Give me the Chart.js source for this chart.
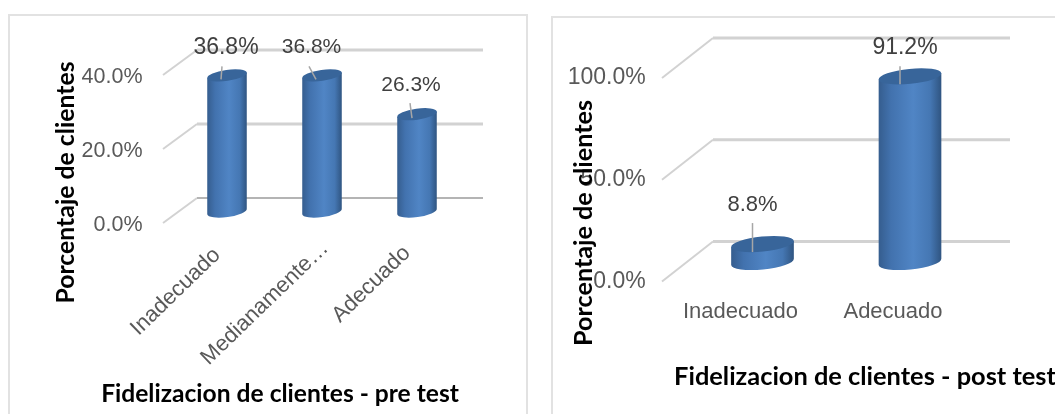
<!DOCTYPE html>
<html lang="es">
<head>
<meta charset="utf-8">
<title>Fidelizacion de clientes</title>
<script src="https://cdn.jsdelivr.net/npm/chart.js@4/dist/chart.umd.js"></script>
<style>
  html, body { margin: 0; padding: 0; background: #fff; overflow: hidden; }
  #stage { position: relative; width: 1055px; height: 414px; overflow: hidden; }
  #stage canvas { position: absolute; left: 0; top: 0; }
  .frame { position: absolute; border: 2px solid #e2e2e2; box-sizing: border-box; }
  #frame-pre { left: 8px; top: 14px; width: 520px; height: 440px; }
  #frame-post { left: 551px; top: 16px; width: 560px; height: 440px; }
</style>
</head>
<body>
<div id="stage">
  <div class="frame" id="frame-pre"></div>
  <div class="frame" id="frame-post"></div>
  <canvas id="chart-pre" width="1055" height="414"></canvas>
  <canvas id="chart-post" width="1055" height="414"></canvas>
</div>
<script>
  const preCategories = ['Inadecuado', 'Medianamente…', 'Adecuado'];
  const preValues = [36.8, 36.8, 26.3];
  const preTicks = ['0.0%', '20.0%', '40.0%'];

  const postCategories = ['Inadecuado', 'Adecuado'];
  const postValues = [8.8, 91.2];
  const postTicks = ['0.0%', '50.0%', '100.0%'];

  const TICK_FONT = '"Liberation Sans", Arial, sans-serif';
  const TITLE_FONT = 'Lato, "Noto Sans", sans-serif';
  const COLORS = {
    tick: '#595959',
    value: '#404040',
    grid: '#d2d2d2',
    leader: '#a6a6a6',
    cap: '#38659a',
    title: '#000000',
  };

  // Bar drawn as a tilted cylinder between the scale's base and value pixels
  class CylinderElement extends Chart.BarElement {
    static id = 'cylinder';
    static defaults = { tilt: 0, capRadius: 0 };
    draw(ctx) {
      const { x, y, base, width } = this.getProps(['x', 'y', 'base', 'width']);
      const tilt = this.options.tilt;
      const ry = this.options.capRadius;
      const rx = width / 2;
      const dx = rx * Math.cos(tilt);
      const dy = rx * Math.sin(tilt);

      const body = ctx.createLinearGradient(x - rx, 0, x + rx, 0);
      body.addColorStop(0, '#355d8e');
      body.addColorStop(0.2, '#4272ae');
      body.addColorStop(0.55, '#5085c5');
      body.addColorStop(0.82, '#4577b3');
      body.addColorStop(1, '#2f5480');

      ctx.save();
      ctx.beginPath();
      ctx.moveTo(x - dx, y + dy);
      ctx.lineTo(x + dx, y - dy);
      ctx.lineTo(x + dx, base - dy);
      ctx.ellipse(x, base, rx, ry, -tilt, 0, Math.PI);
      ctx.closePath();
      ctx.fillStyle = body;
      ctx.fill();

      ctx.beginPath();
      ctx.ellipse(x, y, rx, ry, -tilt, 0, Math.PI * 2);
      ctx.fillStyle = COLORS.cap;
      ctx.fill();
      ctx.restore();
    }
  }

  class CylinderController extends Chart.BarController {
    static id = 'cylinder';
    static defaults = { ...Chart.BarController.defaults, dataElementType: 'cylinder' };
    static overrides = Chart.BarController.overrides;
  }

  Chart.register(CylinderElement, CylinderController);

  // Back wall lines, running from the front axis over the floor depth
  const wallGrid = {
    id: 'wallGrid',
    beforeDatasetsDraw(chart, args, o) {
      const { ctx } = chart;
      const y = chart.scales.y;
      ctx.save();
      y.ticks.forEach((t) => {
        const py = y.getPixelForValue(t.value) + o.lift;
        const isFloor = t.value === 0 && o.floorColor;
        ctx.beginPath();
        ctx.moveTo(o.frontX, py);
        ctx.lineTo(o.backX, py - o.rise);
        ctx.strokeStyle = COLORS.grid;
        ctx.lineWidth = 2;
        ctx.stroke();
        ctx.beginPath();
        ctx.moveTo(o.backX, py - o.rise);
        ctx.lineTo(o.endX, py - o.rise);
        ctx.strokeStyle = isFloor ? o.floorColor : COLORS.grid;
        ctx.lineWidth = isFloor ? 2 : 3;
        ctx.stroke();
      });
      ctx.restore();
    },
  };

  // Value labels with their leader lines, category labels and axis titles
  const panelText = {
    id: 'panelText',
    afterDatasetsDraw(chart, args, o) {
      const { ctx } = chart;
      const x = chart.scales.x;
      const bars = chart.getDatasetMeta(0).data;
      const values = chart.data.datasets[0].data;

      ctx.save();
      bars.forEach((bar, i) => {
        const m = o.marks[i];
        ctx.beginPath();
        ctx.moveTo(bar.x + m.leader[0], bar.y + m.leader[1]);
        ctx.lineTo(bar.x + m.leader[2], bar.y + m.leader[3]);
        ctx.strokeStyle = COLORS.leader;
        ctx.lineWidth = 1.5;
        ctx.stroke();

        ctx.font = m.size + 'px ' + TICK_FONT;
        ctx.fillStyle = COLORS.value;
        ctx.textAlign = 'center';
        ctx.textBaseline = 'middle';
        ctx.fillText(values[i].toFixed(1) + '%', bar.x + m.dx, bar.y + m.dy);
      });

      ctx.fillStyle = COLORS.tick;
      ctx.font = o.catSize + 'px ' + TICK_FONT;
      x.ticks.forEach((t, i) => {
        const c = o.catAnchors[i];
        ctx.save();
        ctx.translate(x.getPixelForTick(i) + c.dx, c.y);
        ctx.rotate(o.catAngle);
        ctx.textAlign = o.catAngle ? 'right' : 'center';
        ctx.textBaseline = 'middle';
        ctx.fillText(t.label, 0, 0);
        ctx.restore();
      });

      ctx.fillStyle = COLORS.title;
      ctx.textBaseline = 'alphabetic';
      ctx.textAlign = 'center';
      ctx.font = 'bold ' + o.xTitle.size + 'px ' + TITLE_FONT;
      ctx.fillText(o.xTitle.text, o.xTitle.x, o.xTitle.y);

      ctx.save();
      ctx.translate(o.yTitle.x, o.yTitle.y);
      ctx.rotate(-Math.PI / 2);
      ctx.font = 'bold ' + o.yTitle.size + 'px ' + TITLE_FONT;
      ctx.fillText(o.yTitle.text, 0, 0);
      ctx.restore();
      ctx.restore();
    },
  };

  function buildPanel(id, p) {
    return new Chart(document.getElementById(id), {
      type: 'cylinder',
      data: {
        labels: p.categories,
        datasets: [{
          data: p.values,
          xAxisID: 'x',
          yAxisID: 'yBar',
          categoryPercentage: 1,
          barPercentage: p.barShare,
          tilt: p.tilt,
          capRadius: p.capRadius,
          clip: false,
        }],
      },
      options: {
        responsive: false,
        animation: false,
        events: [],
        layout: { padding: { top: p.area.top, right: 1055 - p.area.right } },
        plugins: {
          legend: { display: false },
          tooltip: { enabled: false },
          wallGrid: p.walls,
          panelText: p.text,
        },
        scales: {
          x: {
            offset: true,
            grid: { display: false },
            border: { display: false },
            ticks: { display: false },
            afterFit: (s) => { s.height = 414 - p.area.bottom; },
          },
          // front edge of the floor, carries the printed ticks
          y: {
            min: 0,
            max: p.yMax,
            grid: { display: false, drawTicks: false },
            border: { display: false },
            afterBuildTicks: (s) => { s.ticks = p.ticks.map((_, i) => ({ value: i * p.yStep })); },
            ticks: {
              color: COLORS.tick,
              font: { family: TICK_FONT, size: p.tickSize },
              padding: p.tickPadding,
              callback: (v, i) => p.ticks[i],
            },
            afterFit: (s) => { s.width = p.area.left; },
          },
          // same range, moved back to where the cylinders stand
          yBar: {
            display: false,
            min: -p.standBack,
            max: p.yMax - p.standBack,
          },
        },
      },
      plugins: [wallGrid, panelText],
    });
  }

  buildPanel('chart-pre', {
    categories: preCategories,
    values: preValues,
    ticks: preTicks,
    yMax: 40,
    yStep: 20,
    standBack: 3.64,
    area: { left: 179.5, right: 464.5, top: 77, bottom: 225 },
    barShare: 0.42,
    tilt: 0.14,
    capRadius: 5.5,
    tickSize: 21.5,
    tickPadding: 37,
    walls: { frontX: 163, backX: 197, endX: 483, rise: 25, lift: -2, floorColor: '#b4b4b4' },
    text: {
      marks: [
        { size: 23, dx: -1, dy: -28, leader: [-5, -9, -6, 4] },
        { size: 21, dx: -10.5, dy: -28, leader: [-13, -9, -6, 4] },
        { size: 21, dx: -6, dy: -29, leader: [-7, -11, -5, 4] },
      ],
      catSize: 22,
      catAngle: -44 * Math.PI / 180,
      catAnchors: [{ dx: -10, y: 252 }, { dx: 3, y: 245 }, { dx: -10, y: 250 }],
      xTitle: { text: 'Fidelizacion de clientes - pre test', size: 24.6, x: 280, y: 402 },
      yTitle: { text: 'Porcentaje de clientes', size: 24.8, x: 74, y: 182.5 },
    },
  });

  buildPanel('chart-post', {
    categories: postCategories,
    values: postValues,
    ticks: postTicks,
    yMax: 100,
    yStep: 50,
    standBack: 9.6,
    area: { left: 688.75, right: 983.75, top: 78, bottom: 281.5 },
    barShare: 0.427,
    tilt: 0.1,
    capRadius: 7.5,
    tickSize: 23,
    tickPadding: 43,
    walls: { frontX: 662, backX: 713, endX: 1010, rise: 40, lift: 0, floorColor: null },
    text: {
      marks: [
        { size: 22, dx: -10, dy: -39, leader: [-10, -21, -10, 8] },
        { size: 23, dx: -5, dy: -29, leader: [-10, -10, -10, 8] },
      ],
      catSize: 22,
      catAngle: 0,
      catAnchors: [{ dx: -22, y: 312 }, { dx: -17, y: 312 }],
      xTitle: { text: 'Fidelizacion de clientes - post test', size: 25.4, x: 865, y: 385 },
      yTitle: { text: 'Porcentaje de clientes', size: 25.2, x: 592, y: 223 },
    },
  });
</script>
</body>
</html>
